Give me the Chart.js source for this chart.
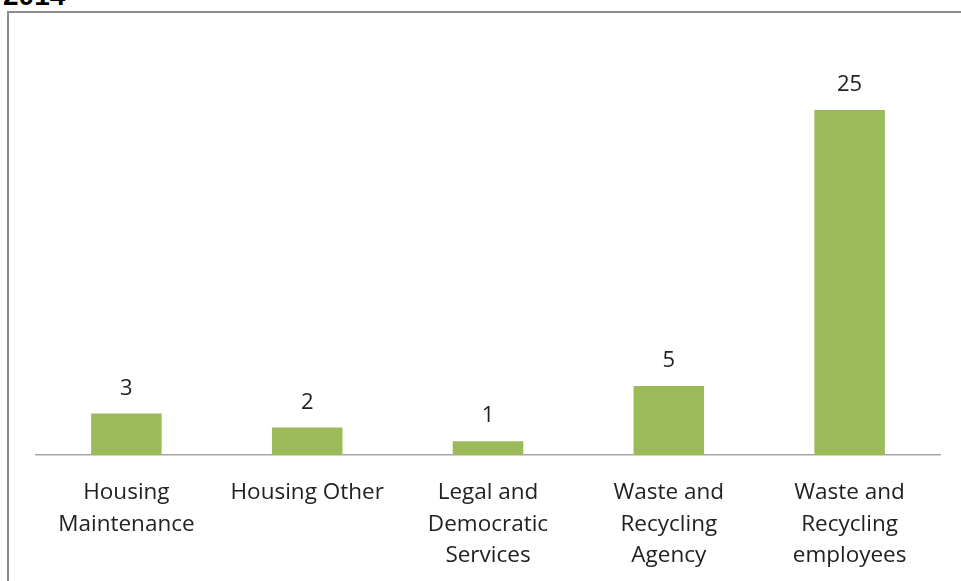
<!DOCTYPE html>
<html>
<head>
<meta charset="utf-8">
<script src="https://cdn.jsdelivr.net/npm/chart.js@4"></script>
<style>
  html, body { margin: 0; padding: 0; background: #fff; overflow: hidden; }
  #page { position: relative; width: 961px; height: 581px; overflow: hidden; }
  #title { position: absolute; left: 3px; top: -18px; font: bold 28px/28px 'Liberation Sans', Arial, sans-serif; color: #000; }
  #frame { position: absolute; left: 7px; top: 11px; width: 1000px; height: 620px; border: 2px solid #8c8c8c; box-sizing: border-box; }
  #wrap { position: absolute; left: 0; top: 0; width: 961px; height: 581px; }
</style>
</head>
<body>
<div id="page">
  <div id="title">2014</div>
  <div id="frame"></div>
  <div id="wrap"><canvas id="barChart"></canvas></div>
</div>
<script>
// categories and values
const categories = [
  ['Housing', 'Maintenance'],
  'Housing Other',
  ['Legal and', 'Democratic', 'Services'],
  ['Waste and', 'Recycling', 'Agency'],
  ['Waste and', 'Recycling', 'employees']
];
const counts = [3, 2, 1, 5, 25];

const labelFont = { family: '"Open Sans", Lato, sans-serif', size: 22.5, lineHeight: '31.5px' };

// draws the value above each bar
const valueLabels = {
  id: 'valueLabels',
  afterDatasetsDraw(chart) {
    const ctx = chart.ctx;
    const meta = chart.getDatasetMeta(0);
    ctx.save();
    ctx.fillStyle = '#222';
    ctx.font = '22px "Open Sans", Lato, sans-serif';
    ctx.textAlign = 'center';
    ctx.textBaseline = 'middle';
    meta.data.forEach((bar, i) => {
      ctx.fillText(String(counts[i]), bar.x, bar.y - 25);
    });
    ctx.restore();
  }
};

const ctx = document.getElementById('barChart').getContext('2d');
new Chart(ctx, {
  type: 'bar',
  data: {
    labels: categories,
    datasets: [{
      data: counts,
      backgroundColor: '#9bbb59',
      borderWidth: 0,
      categoryPercentage: 1,
      barPercentage: 0.39
    }]
  },
  options: {
    responsive: true,
    maintainAspectRatio: false,
    animation: false,
    layout: { padding: { left: 36, right: 21, top: 41, bottom: 0 } },
    plugins: {
      legend: { display: false },
      tooltip: { enabled: false }
    },
    scales: {
      x: {
        grid: { display: false },
        border: { display: true, color: '#a6a6a6', width: 1.5 },
        ticks: { color: '#222', font: labelFont, padding: 14, maxRotation: 0, autoSkip: false },
        afterFit(axis) { axis.height = 126; }
      },
      y: {
        display: false,
        min: 0,
        max: 30
      }
    }
  },
  plugins: [valueLabels]
});
</script>
</body>
</html>
